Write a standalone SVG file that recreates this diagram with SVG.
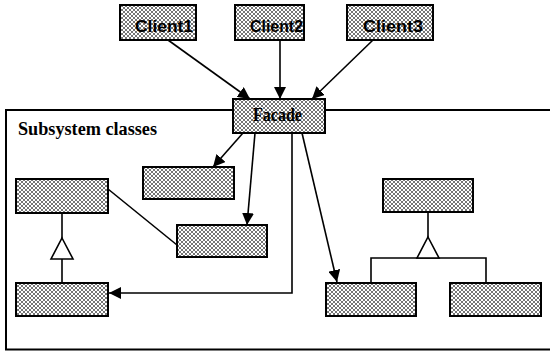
<svg xmlns="http://www.w3.org/2000/svg" width="550" height="351" viewBox="0 0 550 351">
<style>
.box{fill:url(#hatch);stroke:#000;stroke-width:2}
.ln{fill:none;stroke:#000;stroke-width:1.6}
.arr{marker-end:url(#ah)}
.client{font-family:"Liberation Sans",Arial,sans-serif;font-weight:bold;font-size:16px;fill:#000}
.serif{font-family:"Liberation Serif","Times New Roman",serif;font-weight:bold;fill:#000}
.tri{fill:#fff;stroke:#000;stroke-width:1.6}
</style>
<defs>
<pattern id="hatch" width="4" height="4" patternUnits="userSpaceOnUse">
<rect width="4" height="4" fill="#fff"/>
<path d="M0,0 L4,4 M4,0 L0,4" stroke="#3a3a3a" stroke-width="0.7"/>
</pattern>
<marker id="ah" viewBox="0 0 12 12" refX="12" refY="6" markerWidth="12" markerHeight="12" orient="auto" markerUnits="userSpaceOnUse">
<path d="M0,0 L12,6 L0,12 z" fill="#000"/>
</marker>
</defs>
<rect width="550" height="351" fill="#fff"/>
<g id="subsystem-frame">
<rect x="6" y="110" width="560" height="239.5" fill="none" stroke="#000" stroke-width="2"/>
<text class="serif" x="18" y="135" font-size="18" textLength="139" lengthAdjust="spacingAndGlyphs">Subsystem classes</text>
</g>
<g id="connectors">
<line class="ln arr" x1="168" y1="40" x2="250" y2="99"/>
<line class="ln arr" x1="280" y1="40" x2="280" y2="99"/>
<line class="ln arr" x1="373" y1="40" x2="312" y2="99"/>
<line class="ln arr" x1="243" y1="133" x2="213" y2="167"/>
<line class="ln arr" x1="255" y1="133" x2="247" y2="225"/>
<path class="ln arr" d="M292,133 V293 H109"/>
<line class="ln arr" x1="302" y1="133" x2="337" y2="282"/>
<line class="ln" x1="108" y1="189" x2="177" y2="245"/>
<path class="ln" d="M62,213 V238 M62,259 V283"/>
<polygon class="tri" points="62,238 73,259 51,259"/>
<path class="ln" d="M428,212 V237 M371,283 V258 H486 V283"/>
<polygon class="tri" points="428,237 439,258 417,258"/>
</g>
<g id="client1"><rect class="box" x="120" y="5" width="76" height="35"/><text class="client" x="135" y="32" textLength="58" lengthAdjust="spacingAndGlyphs">Client1</text></g>
<g id="client2"><rect class="box" x="235" y="5" width="69" height="35"/><text class="client" x="250" y="32" textLength="53" lengthAdjust="spacingAndGlyphs">Client2</text></g>
<g id="client3"><rect class="box" x="347" y="5" width="86" height="35"/><text class="client" x="363" y="32" textLength="60" lengthAdjust="spacingAndGlyphs">Client3</text></g>
<g id="facade"><rect class="box" x="233" y="99" width="92" height="34"/><text class="serif" x="253" y="121" font-size="19" textLength="49" lengthAdjust="spacingAndGlyphs">Facade</text></g>
<g id="class-a"><rect class="box" x="143" y="167" width="91" height="32"/></g>
<g id="class-b"><rect class="box" x="177" y="225" width="90" height="32"/></g>
<g id="class-c"><rect class="box" x="16" y="179" width="92" height="34"/></g>
<g id="class-d"><rect class="box" x="16" y="283" width="92" height="33"/></g>
<g id="class-e"><rect class="box" x="326" y="283" width="90" height="33"/></g>
<g id="class-f"><rect class="box" x="383" y="179" width="90" height="33"/></g>
<g id="class-g"><rect class="box" x="450" y="283" width="91" height="33"/></g>
</svg>
